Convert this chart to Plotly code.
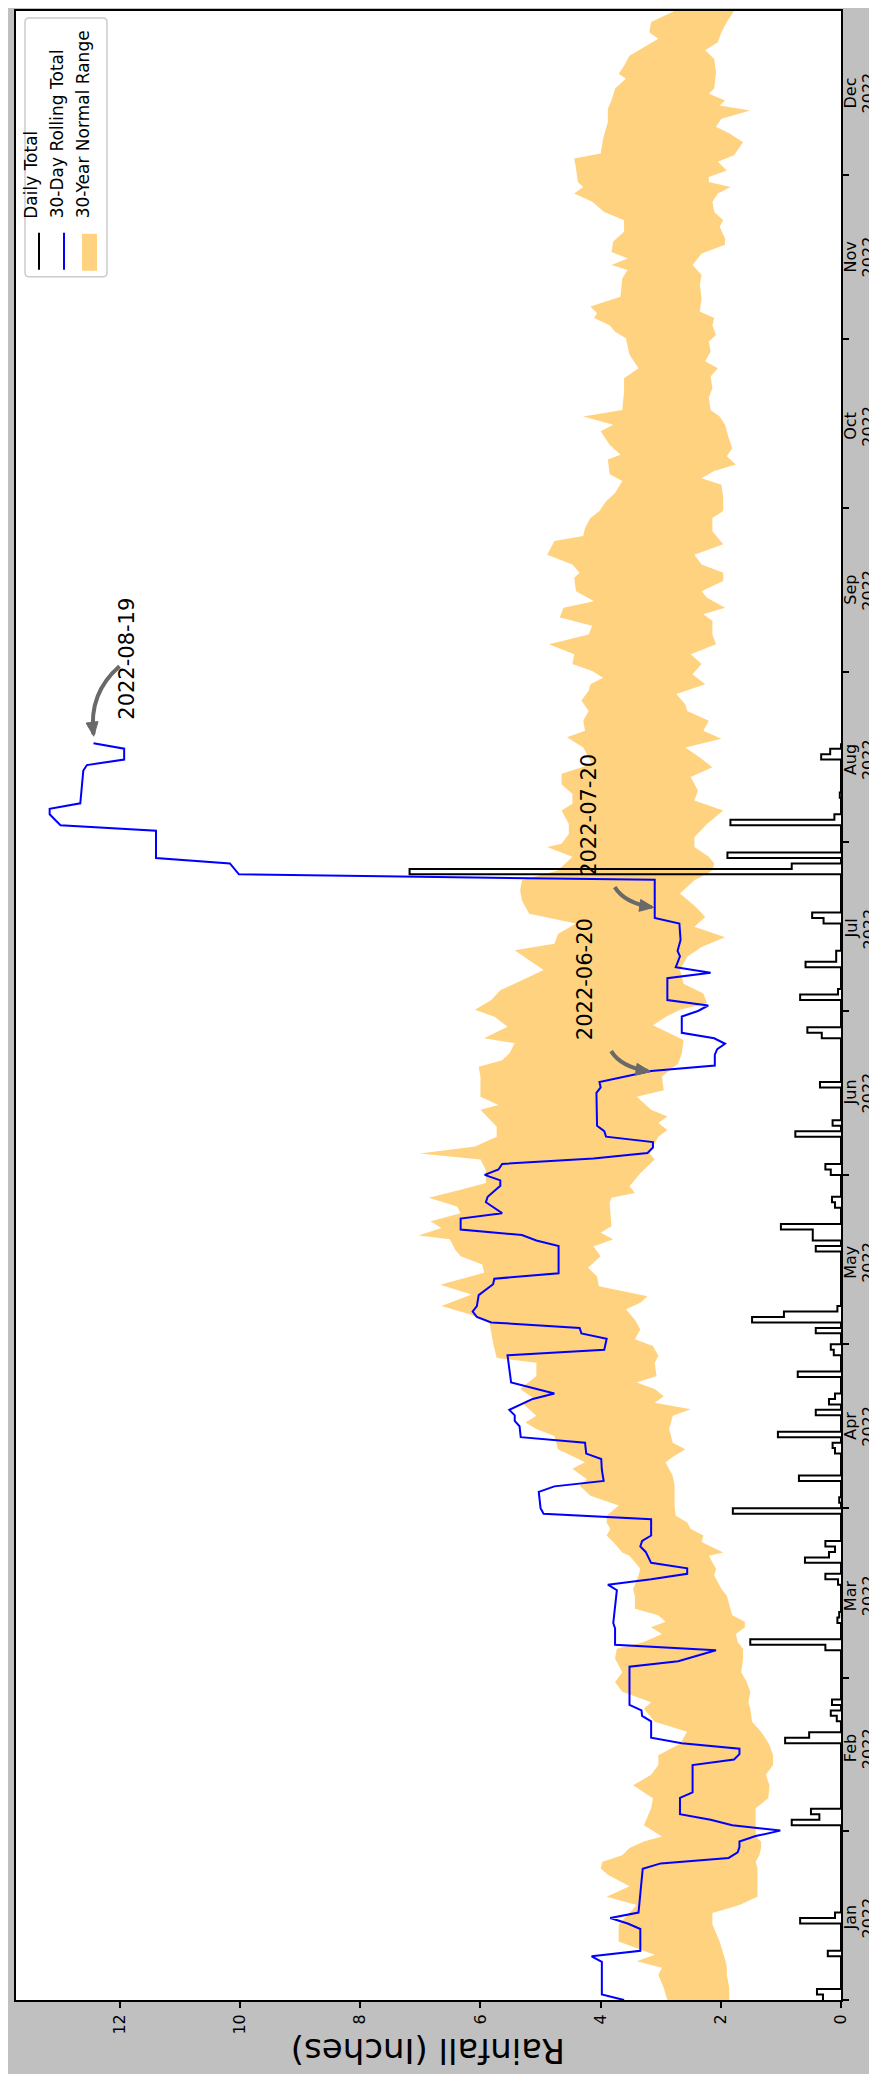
import datetime as dt
import math
import plotly.graph_objects as go

# ---------------- data ----------------
# daily rainfall: day-of-year index (0 = 2022-01-01) and inches
daily_day = [0, 1, 8, 14, 15, 32, 33, 34, 47, 48, 51, 52, 54, 64, 65, 69, 70, 76, 77, 80, 81, 82, 83,
             89, 91, 95, 100, 101, 103, 107, 109, 110, 114, 118, 119, 122, 124, 125, 126, 137, 139,
             140, 141, 145, 146, 151, 152, 158, 160, 167, 176, 177, 183, 184, 189, 190, 191, 197, 198,
             206, 207, 209, 215, 216, 220, 227, 228]
daily_in = [0.30, 0.40, 0.22, 0.68, 0.10, 0.82, 0.36, 0.50, 0.93, 0.53, 0.07, 0.17, 0.15, 0.26, 1.51,
            0.06, 0.03, 0.05, 0.26, 0.60, 0.20, 0.10, 0.26, 1.80, 0.03, 0.70, 0.10, 0.14, 1.05, 0.42,
            0.20, 0.10, 0.72, 0.12, 0.17, 0.42, 1.48, 0.95, 0.06, 0.42, 0.47, 0.47, 1.00, 0.10, 0.15,
            0.17, 0.26, 0.76, 0.14, 0.35, 0.32, 0.56, 0.68, 0.05, 0.59, 0.08, 0.08, 0.29, 0.48, 7.18,
            0.82, 1.89, 1.84, 0.11, 0.02, 0.33, 0.18]
last_day = 230  # 2022-08-19

# 30-day rolling total (day, inches)
roll_day = [0, 1, 7, 8, 9, 13, 14, 15, 16, 24, 25, 26, 27, 28, 29, 30, 31, 32, 33, 34, 37, 38, 43, 44,
            45, 46, 47, 48, 51, 52, 53, 54, 61, 62, 64, 65, 68, 69, 75, 76, 77, 78, 79, 80, 82, 83, 84,
            85, 88, 89, 90, 93, 94, 95, 97, 99, 100, 102, 103, 105, 106, 107, 108, 110, 111, 113, 118,
            119, 121, 122, 123, 124, 125, 126, 127, 129, 131, 132, 133, 138, 139, 140, 141, 143, 144,
            146, 147, 149, 150, 151, 152, 153, 154, 155, 156, 157, 158, 159, 160, 166, 167, 168, 170,
            171, 173, 174, 175, 176, 177, 180, 181, 182, 183, 187, 188, 189, 191, 192, 194, 197, 198,
            205, 206, 208, 209, 214, 215, 217, 218, 219, 225, 226, 227, 229, 230]
roll_in = [3.61, 3.98, 3.98, 4.15, 3.34, 3.34, 3.55, 3.84, 3.37, 3.30, 3.00, 1.87, 1.72, 1.69, 1.69,
           1.42, 1.01, 1.81, 2.17, 2.68, 2.68, 2.47, 2.47, 1.78, 1.69, 1.69, 2.65, 3.16, 3.16, 3.31,
           3.32, 3.52, 3.52, 2.71, 2.08, 3.76, 3.76, 3.79, 3.73, 3.88, 3.16, 2.56, 2.56, 3.16, 3.25,
           3.34, 3.31, 3.16, 3.16, 4.95, 5.00, 5.03, 4.77, 3.95, 3.98, 3.99, 4.24, 4.26, 5.33, 5.35,
           5.43, 5.43, 5.52, 5.13, 4.77, 5.49, 5.55, 3.94, 3.90, 4.32, 4.35, 5.82, 6.06, 6.13, 6.06,
           6.03, 5.79, 5.77, 4.70, 4.70, 5.07, 5.31, 6.33, 6.33, 5.64, 5.91, 5.88, 5.67, 5.67, 5.93,
           5.70, 5.64, 4.12, 3.22, 3.13, 3.13, 3.91, 3.94, 4.06, 4.07, 4.00, 4.02, 3.16, 2.10, 2.10,
           2.06, 1.93, 2.11, 2.65, 2.65, 2.38, 2.21, 2.89, 2.89, 2.17, 2.75, 2.68, 2.72, 2.67, 2.69,
           3.10, 3.10, 10.02, 10.17, 11.40, 11.40, 12.99, 13.17, 13.17, 12.66, 12.61, 12.55, 11.93,
           11.93, 12.44]

# 30-year normal range, upper and lower edges (day, inches)
upper_day = [0, 2.2, 4.6, 5.9, 7.1, 8.3, 10.7, 13.8, 15.9, 17.4, 18.9, 20.8, 22.9, 24.1, 25.3, 26.5,
             27.8, 29.0, 29.9, 32.0, 35.1, 36.9, 39.3, 41.2, 43.0, 44.8, 46.9, 49.1, 50.9, 53.3, 54.5,
             56.4, 58.2, 60.0, 62.5, 64.3, 65.5, 67.0, 68.2, 69.2, 70.4, 71.6, 74.0, 75.2, 77.7, 78.9,
             81.3, 81.9, 83.8, 85.0, 86.2, 87.4, 88.6,
             90.5, 92.3, 94.1, 95.3, 97.2, 98.4, 99.6, 100.8, 103.2, 104.5, 105.7, 106.9, 109.3, 110.2,
             111.8, 114.2, 116.6, 117.5, 120.3, 123.9, 125.5, 127.0, 129.1, 130.9, 133.1, 134.6, 136.1,
             137.3, 139.2, 139.9, 141.3, 142.5, 144.0, 145.2, 146.8, 148.3, 149.5, 151.9, 153.8, 154.9,
             156.2, 158.0, 159.8, 161.1, 162.9, 163.8, 165.3, 169.0, 170.8, 172.0, 173.2, 175.1, 176.0,
             178.1, 179.9, 181.2,
             183.0, 184.8, 186.6, 188.5, 190.3, 192.1, 193.3, 195.1, 197.0, 198.8, 201.2, 203.1, 204.9,
             206.7, 208.0, 209.2, 211.0, 211.6, 213.4, 215.2, 217.7, 218.9, 220.7, 222.5, 224.4, 226.2,
             229.2, 231.1, 232.3, 234.1, 235.9, 237.8, 239.6, 240.8, 242.0, 243.2, 244.5, 246.3, 248.1,
             249.9, 251.5, 253.0, 254.8, 256.0, 257.8, 260.3, 261.2, 262.7, 264.5, 267.0, 267.9, 269.4,
             271.2, 272.5,
             274.3, 275.8, 278.0, 279.2, 281.9, 282.8, 284.6, 287.1, 288.3, 289.8, 291.0, 294.4, 296.8,
             298.6, 301.1, 304.1, 305.3, 306.5, 307.8, 308.7, 309.9, 311.7, 315.1, 316.6, 317.5, 318.7,
             319.9, 321.8, 323.6, 325.7, 327.2, 329.1, 330.6, 331.8, 332.7, 335.2, 337.0, 337.9, 340.6,
             343.7, 346.1, 347.6, 349.8, 351.6, 352.5, 354.0, 355.8, 357.7, 358.9, 360.1, 362.0, 364.0]
upper_in = [2.89, 2.95, 3.04, 2.98, 3.40, 3.10, 3.70, 3.70, 3.52, 3.40, 3.90, 3.52, 3.88, 4.00, 3.97,
            3.64, 3.52, 3.28, 2.98, 3.28, 3.16, 3.13, 3.46, 3.16, 3.04, 3.04, 2.68, 2.56, 3.10, 3.28,
            3.16, 3.64, 3.76, 3.64, 3.76, 3.73, 3.28, 2.98, 3.16, 2.92, 3.04, 3.43, 3.43, 3.46, 3.37,
            3.34, 3.52, 3.64, 3.79, 3.90, 3.84, 3.90, 3.90,
            3.70, 4.17, 4.35, 4.23, 4.47, 4.26, 4.47, 4.71, 4.77, 5.07, 5.25, 5.07, 5.31, 5.13, 5.34,
            5.07, 5.07, 5.73, 5.79, 5.85, 6.18, 6.65, 6.15, 6.67, 5.94, 5.97, 6.33, 6.42, 6.51, 7.03,
            6.65, 6.83, 6.33, 6.39, 6.86, 6.33, 5.91, 5.91, 6.00, 7.01, 6.09, 5.73, 5.73, 5.85, 6.00,
            5.70, 6.00, 6.00, 6.03, 5.64, 5.52, 5.43, 5.94, 5.55, 5.76, 6.09,
            5.82, 5.67, 5.31, 4.95, 5.19, 5.43, 4.77, 4.71, 4.41, 5.19, 5.31, 5.34, 5.31, 4.71, 4.59,
            4.47, 4.89, 4.65, 4.53, 4.53, 4.65, 4.47, 4.47, 4.65, 4.65, 4.14, 4.29, 4.56, 4.26, 4.29,
            4.20, 4.32, 4.20, 4.17, 3.96, 4.14, 4.47, 4.44, 4.86, 4.20, 4.14, 4.68, 4.62, 4.11, 4.41,
            4.44, 4.35, 4.47, 4.89, 4.77, 4.29, 4.26, 4.17, 4.02,
            3.91, 3.76, 3.64, 3.85, 3.88, 3.67, 3.85, 4.00, 3.79, 4.29, 3.64, 3.61, 3.61, 3.37, 3.52,
            3.58, 3.76, 3.85, 4.11, 4.06, 4.17, 3.67, 3.64, 3.55, 3.82, 3.55, 3.82, 3.79, 3.61, 3.61,
            3.94, 4.14, 4.44, 4.29, 4.38, 4.41, 4.44, 4.00, 3.96, 3.88, 3.88, 3.82, 3.76, 3.58, 3.70,
            3.61, 3.52, 3.22, 3.04, 3.19, 3.16, 2.77]
lower_day = [0, 2.2, 4.6, 5.9, 7.1, 8.3, 10.7, 13.8, 15.9, 17.4, 18.9, 20.8, 22.9, 24.1, 25.3, 26.5,
             27.8, 29.0, 29.9, 32.0, 35.1, 36.9, 39.3, 41.2, 43.0, 44.8, 46.9, 49.1, 50.9, 53.3, 54.5,
             56.4, 58.2, 60.0, 62.5, 64.3, 65.5, 67.0, 68.2, 69.2, 70.4, 71.6, 74.0, 75.2, 77.7, 78.9,
             81.3, 81.9, 83.8, 85.0, 86.2, 87.4, 88.6,
             90.5, 94.1, 95.9, 98.4, 99.6, 100.8, 102.0, 104.5, 106.9, 108.1, 109.3, 110.5, 111.8, 113.0,
             114.2, 116.6, 117.9, 119.7, 120.9, 122.7, 124.5, 126.4, 127.6, 128.8, 130.6, 132.4, 134.0,
             136.1, 137.9, 139.2, 140.4, 141.6, 145.9, 146.8, 147.7, 148.9, 151.3, 153.8, 155.0, 158.0,
             159.2, 160.5, 161.7, 162.9, 165.3, 166.5, 169.0, 171.4, 173.2, 175.7, 178.4, 179.9, 181.2,
             182.4, 184.2, 186.0, 188.5, 190.9, 192.7, 194.5, 196.4, 198.2, 200.0, 202.5, 204.9, 206.7,
             208.0, 209.2, 211.0, 212.8, 215.2, 217.7, 219.5, 221.3, 223.8, 225.6, 227.4, 229.2, 230.8,
             232.3, 234.1, 235.9, 237.1, 239.0, 240.8, 242.6, 244.5, 246.3, 248.1, 249.9, 252.4, 253.6,
             254.8, 256.6, 257.8, 259.7, 261.2, 262.7, 264.5, 266.4, 268.8, 271.2, 272.5,
             274.9, 277.3, 278.5, 279.8, 281.0, 282.5, 284.0, 285.9, 288.3, 289.8, 291.0, 293.2, 295.0,
             297.1, 298.6, 299.9, 301.7, 303.5, 304.7, 306.5, 307.8, 309.0, 311.4, 313.9, 315.7, 317.5,
             319.6, 321.2, 322.4, 324.5, 325.7, 327.2, 329.1, 330.6, 331.8, 332.7, 333.6, 334.8, 336.4,
             337.6, 340.0, 341.5, 342.8, 344.3, 345.8, 346.7, 347.6, 348.9, 349.8, 352.8, 355.2, 356.8,
             358.3, 360.1, 362.0, 364.0]
lower_in = [1.86, 1.86, 1.90, 1.90, 1.92, 1.95, 2.02, 2.14, 2.14, 1.69, 1.39, 1.39, 1.39, 1.39, 1.42,
            1.36, 1.33, 1.33, 1.42, 1.42, 1.42, 1.21, 1.19, 1.25, 1.13, 1.13, 1.20, 1.33, 1.48, 1.51,
            1.54, 1.51, 1.57, 1.66, 1.63, 1.63, 1.72, 1.75, 1.60, 1.60, 1.81, 1.84, 1.90, 1.99, 2.11,
            2.08, 2.20, 1.96, 2.32, 2.29, 2.50, 2.56, 2.75,
            2.77, 2.77, 2.80, 2.92, 2.77, 2.59, 2.80, 2.86, 2.80, 2.50, 3.10, 2.95, 3.10, 3.40, 3.07,
            3.10, 3.04, 3.13, 3.43, 3.34, 3.43, 3.58, 3.34, 3.22, 4.03, 4.06, 4.21, 4.00, 4.12, 3.79,
            4.00, 3.82, 3.85, 3.82, 3.43, 3.52, 3.34, 3.10, 3.19, 3.04, 2.89, 3.04, 2.89, 3.16, 3.40,
            2.95, 2.98, 2.71, 2.65, 2.62, 3.13, 2.92, 2.68,
            2.23, 2.29, 2.62, 2.68, 2.56, 2.32, 1.93, 2.44, 2.26, 2.41, 2.68, 2.44, 2.14, 2.11, 2.20,
            2.44, 2.44, 2.23, 1.96, 2.44, 2.38, 2.50, 2.14, 2.35, 2.59, 1.99, 2.29, 2.20, 2.56, 2.59,
            2.74, 2.26, 2.47, 2.32, 2.50, 2.08, 2.14, 2.14, 2.29, 1.93, 2.23, 2.32, 1.96, 1.96, 2.32,
            2.44, 1.96, 2.14, 2.14, 1.96,
            1.96, 1.99, 2.32, 2.11, 1.75, 1.90, 1.81, 1.87, 1.93, 2.02, 2.17, 2.20, 2.14, 2.17, 2.05,
            2.26, 2.17, 2.20, 2.08, 2.14, 2.11, 2.35, 2.32, 2.35, 2.32, 2.47, 2.32, 1.93, 1.93, 2.02,
            1.96, 2.11, 2.14, 2.05, 1.84, 2.20, 2.20, 1.90, 2.05, 1.78, 1.63, 1.84, 2.08, 1.99, 1.51,
            2.02, 1.93, 2.20, 2.11, 2.08, 2.11, 2.26, 2.05, 1.99, 1.90, 1.78]

month_names = ['Jan', 'Feb', 'Mar', 'Apr', 'May', 'Jun', 'Jul', 'Aug', 'Sep', 'Oct', 'Nov', 'Dec']
month_start = [0, 31, 59, 90, 120, 151, 181, 212, 243, 273, 304, 334]
year_label = '2022'
rain_ticks = [0, 2, 4, 6, 8, 10, 12]
event_dates = ['2022-06-20', '2022-07-20', '2022-08-19']

legend_labels = ['Daily Total', '30-Day Rolling Total', '30-Year Normal Range']

# ---------------- layout constants ----------------
W, H = 877, 2074
ML, MR, MT, MB = 8, 44, 1, 82
PW, PH = W - ML - MR, H - MT - MB
XMAX = 13.73
DAYMAX = 364
FONT = 'DejaVu Sans'
ORANGE = 'rgba(255,165,0,0.5)'
GRAY = '#696969'
ROT_DX = -8  # visual correction for text rotated by -90 degrees

x_per_px = XMAX / PW
d_per_px = DAYMAX / PH


def doy(s):
    d = dt.date.fromisoformat(s)
    return (d - dt.date(2022, 1, 1)).days


def px_x(px):  # figure pixel x -> paper
    return (px - ML) / PW


def px_y(py):  # figure pixel y -> paper
    return (H - MB - py) / PH


# full daily series (dry days are zero)
dmap = dict(zip(daily_day, daily_in))
days_all = list(range(0, last_day + 1))
vals_all = [dmap.get(d, 0.0) for d in days_all]

fig = go.Figure()
fig.add_trace(go.Scatter(x=lower_in + upper_in[::-1], y=lower_day + upper_day[::-1],
                         fill='toself', fillcolor=ORANGE, mode='lines', line=dict(width=0),
                         hoverinfo='skip', showlegend=False))
fig.add_trace(go.Scatter(x=vals_all, y=days_all, mode='lines',
                         line=dict(color='black', width=2, shape='vh'), showlegend=False))
fig.add_trace(go.Scatter(x=roll_in, y=roll_day, mode='lines',
                         line=dict(color='blue', width=2), showlegend=False))

annotations = []
shapes = []

# month labels on the right (mid-month), two rotated lines each centred on the date
for m, s in zip(month_names, month_start):
    for txt, off in ((m, 17.5), (year_label, 35.5)):
        annotations.append(dict(x=1 + (off + ROT_DX) / PW, xref='paper', y=s + 15, yref='y',
                                text=txt, textangle=-90, showarrow=False,
                                xanchor='center', yanchor='middle', borderpad=0,
                                font=dict(family=FONT, size=16, color='black')))

# axis title (upside down)
annotations.append(dict(x=0.5, xref='paper', y=0, yref='paper', yshift=-51,
                        text='Rainfall (Inches)', textangle=180, showarrow=False,
                        xanchor='center', yanchor='middle',
                        font=dict(family=FONT, size=34, color='black')))


def roll_at(day):
    for i in range(len(roll_day) - 1):
        if roll_day[i] <= day <= roll_day[i + 1]:
            t = (day - roll_day[i]) / (roll_day[i + 1] - roll_day[i])
            return roll_in[i] + t * (roll_in[i + 1] - roll_in[i])
    return roll_in[-1]


# event annotations: (text offset px, arrow start offset px, control offset px, tip offset px)
event_geom = {
    '2022-06-20': ((-58, -92), (-40, -20), (-30, -4), (-3, 0)),
    '2022-07-20': ((-58, -92), (-40, -20), (-30, -4), (-3, 0)),
    '2022-08-19': ((42, -84), (26, -77), (-5, -50), (0, -9)),
}
for ev in event_dates:
    d = doy(ev)
    v = roll_at(d)
    (tdx, tdy), (sdx, sdy), (cdx, cdy), (edx, edy) = event_geom[ev]
    annotations.append(dict(x=v, y=d, xref='x', yref='y', xshift=tdx + ROT_DX, yshift=-tdy,
                            text=ev, textangle=-90, showarrow=False,
                            xanchor='center', yanchor='middle',
                            font=dict(family=FONT, size=21, color='black')))

    def P(dx, dy):
        return (v - dx * x_per_px, d - dy * d_per_px)

    sx, sy = P(sdx, sdy)
    cx, cy = P(cdx, cdy)
    ex, ey = P(edx, edy)
    shapes.append(dict(type='path', xref='x', yref='y',
                       path=f'M{sx},{sy} Q{cx},{cy} {ex},{ey}',
                       line=dict(color=GRAY, width=4)))
    tx, ty = edx - cdx, edy - cdy
    L = math.hypot(tx, ty)
    ux, uy = tx / L, ty / L
    hx, hy = edx - ux * 12, edy - uy * 12
    a1 = P(hx - uy * 6, hy + ux * 6)
    a2 = P(hx + uy * 6, hy - ux * 6)
    tip = P(edx + ux * 2, edy + uy * 2)
    shapes.append(dict(type='path', xref='x', yref='y',
                       path=f'M{tip[0]},{tip[1]} L{a1[0]},{a1[1]} L{a2[0]},{a2[1]} Z',
                       fillcolor=GRAY, line=dict(color=GRAY, width=1)))

# legend (drawn rotated), box with rounded corners
bx0, bx1, by0, by1, r = 17, 99, 8, 267, 4
rp = (f'M{px_x(bx0 + r)},{px_y(by0)} L{px_x(bx1 - r)},{px_y(by0)} '
      f'Q{px_x(bx1)},{px_y(by0)} {px_x(bx1)},{px_y(by0 + r)} '
      f'L{px_x(bx1)},{px_y(by1 - r)} Q{px_x(bx1)},{px_y(by1)} {px_x(bx1 - r)},{px_y(by1)} '
      f'L{px_x(bx0 + r)},{px_y(by1)} Q{px_x(bx0)},{px_y(by1)} {px_x(bx0)},{px_y(by1 - r)} '
      f'L{px_x(bx0)},{px_y(by0 + r)} Q{px_x(bx0)},{px_y(by0)} {px_x(bx0 + r)},{px_y(by0)} Z')
shapes.append(dict(type='path', xref='paper', yref='paper', path=rp,
                   fillcolor='rgba(255,255,255,0.8)', line=dict(color='#cccccc', width=1.5)))
shapes.append(dict(type='line', xref='paper', yref='paper', x0=px_x(31), x1=px_x(31),
                   y0=px_y(260), y1=px_y(223), line=dict(color='black', width=2)))
shapes.append(dict(type='line', xref='paper', yref='paper', x0=px_x(56), x1=px_x(56),
                   y0=px_y(260), y1=px_y(223), line=dict(color='blue', width=2)))
shapes.append(dict(type='rect', xref='paper', yref='paper', x0=px_x(74), x1=px_x(89),
                   y0=px_y(261), y1=px_y(224), fillcolor=ORANGE, line=dict(width=0)))
for lab, xp in zip(legend_labels, [31, 57, 82.5]):
    annotations.append(dict(x=px_x(xp + ROT_DX), y=px_y(210), xref='paper', yref='paper',
                            text=lab, textangle=-90, showarrow=False, borderpad=0,
                            xanchor='center', yanchor='bottom',
                            font=dict(family=FONT, size=17, color='black')))

axis_common = dict(showline=True, linecolor='black', linewidth=1.6, mirror=True,
                   showgrid=False, zeroline=False, ticks='outside', ticklen=6,
                   tickwidth=1.5, tickcolor='black')
fig.update_layout(
    width=W, height=H,
    margin=dict(l=ML, r=MR, t=MT, b=MB, pad=0),
    paper_bgcolor='#c0c0c0', plot_bgcolor='white',
    showlegend=False,
    xaxis=dict(range=[XMAX, 0], tickvals=rain_ticks, ticktext=[str(t) for t in rain_ticks],
               tickangle=-90, tickfont=dict(family=FONT, size=16, color='black'), **axis_common),
    yaxis=dict(range=[0, DAYMAX], side='right', tickvals=month_start,
               ticktext=[''] * len(month_start), **axis_common),
    annotations=annotations, shapes=shapes,
)
fig.write_html('out.html')
